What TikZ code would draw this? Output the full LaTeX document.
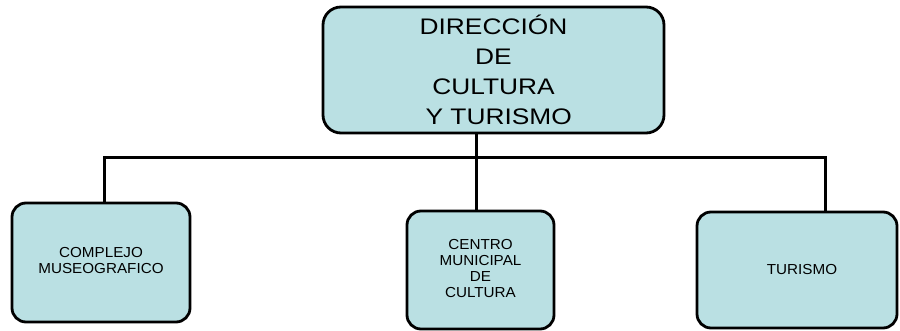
\documentclass[tikz,border=0pt]{standalone}
\usepackage{fontspec}
\setmainfont{Liberation Sans}
\definecolor{boxfill}{HTML}{BAE0E3}
\begin{document}
\begin{tikzpicture}[x=1pt,y=-1pt,
  orgbox/.style={draw=black, line width=2.8pt, fill=boxfill, rounded corners=14pt,
    align=center, inner sep=0pt, font=\fontsize{14.5}{16}\selectfont},
  link/.style={draw=black, line width=3pt}]
\useasboundingbox (0,0) rectangle (900,331);
\node[orgbox, rounded corners=18pt, minimum width=341pt, minimum height=126pt] (top) at (493.5,70)
  {\raisebox{-4pt}[\height][\depth]{\scalebox{1.17}[1]{\fontsize{22.5}{30}\selectfont\begin{tabular}{@{}c@{}}DIRECCIÓN\\DE\\CULTURA\\\hspace{0.4em}Y TURISMO\end{tabular}}}};
\node[orgbox, minimum width=178pt, minimum height=119pt] (b1) at (101,262.5)
  {\scalebox{1.05}[1]{\begin{tabular}{@{}c@{}}COMPLEJO\\MUSEOGRAFICO\end{tabular}}};
\node[orgbox, minimum width=147pt, minimum height=118pt] (b2) at (480.5,270)
  {\scalebox{1.05}[1]{\begin{tabular}{@{}c@{}}CENTRO\\MUNICIPAL\\DE\\CULTURA\end{tabular}}};
\node[orgbox, minimum width=200pt, minimum height=116pt] (b3) at (797,270)
  {\hspace{10pt}\scalebox{1.05}[1]{TURISMO}};
\coordinate (hl) at (104.5,157.5);
\coordinate (hr) at (825,157.5);
\coordinate (hc) at (476,157.5);
\draw[link] (hl |- b1.north) -- (hl) -- (hr) -- (hr |- b3.north);
\draw[link] (hc |- top.south) -- (hc |- b2.north);
\end{tikzpicture}
\end{document}
